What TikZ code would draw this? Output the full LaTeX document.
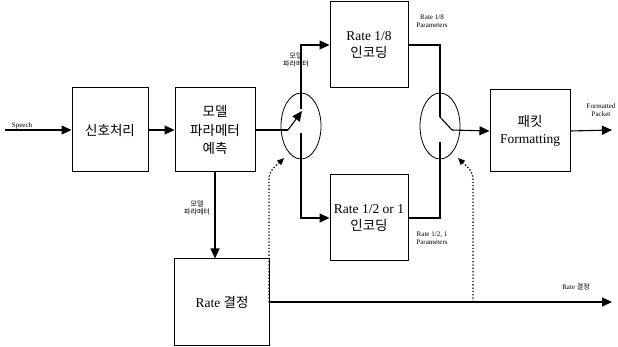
\documentclass[tikz,border=0pt]{standalone}
\usepackage{fontspec}
\setmainfont{Liberation Serif}
\newfontfamily\kr{Noto Sans CJK KR}
\usetikzlibrary{arrows.meta,shapes.geometric}
\tikzset{
  blk/.style={draw,line width=1pt,minimum width=#1,inner sep=0pt,align=center,font=\fontsize{13.5}{16.5}\selectfont},
  ln/.style={line width=1.1pt},
  arr/.style={line width=1.1pt,-{Triangle[length=10pt,width=9pt]}},
  dots/.style={line width=1.3pt,dotted,-{Triangle[length=7pt,width=6pt]}},
  lbl/.style={font=\fontsize{7}{8}\selectfont,align=center,inner sep=1pt},
  sw/.style={draw,ellipse,line width=0.8pt,minimum width=40pt,minimum height=66pt,inner sep=0pt}
}
\begin{document}
\begin{tikzpicture}[x=1pt,y=-1pt]
\useasboundingbox (0,0) rectangle (618,347);
% boxes
\node[blk=76pt,minimum height=84pt] (sig) at (110,130) {\kr 신호처리};
\node[blk=80pt,minimum height=84pt] (model) at (215,130) {\kr 모델\\[2pt]\kr 파라메터\\[2pt]\kr 예측};
\node[blk=78pt,minimum height=86pt] (r18) at (369,45) {Rate 1/8\\\kr 인코딩};
\node[blk=78pt,minimum height=86pt] (r12) at (369,218) {Rate 1/2 or 1\\\kr 인코딩};
\node[blk=80pt,minimum height=82pt] (pkt) at (530,131) {\kr 패킷\\Formatting};
\node[blk=95pt,minimum height=86pt] (rate) at (222,302) {Rate {\kr 결정}};
% switches
\node[sw] (swl) at (301,126) {};
\node[sw] (swr) at (440,126) {};
\coordinate (in) at (5,130);
\coordinate (outp) at (612,130);
\coordinate (outr) at (612,302);
\coordinate (lpa) at (288,130);
\coordinate (lpt) at (302,111);
\coordinate (lpb) at (301,133);
\coordinate (rpa) at (440,117);
\coordinate (rpb) at (452,130);
\coordinate (rpl) at (440,142);
% connectors
\draw[arr] (in) -- (sig.west);
\draw[arr] (sig.east) -- (model.west);
\draw[ln] (model.east) -- (lpa);
\draw[arr] (lpa) -- (lpt);
\draw[arr] (301,109) |- (r18.west);
\draw[arr] (lpb) |- (r12.west);
\draw[ln] (r18.east) -| (rpa);
\draw[ln] (rpa) -- (rpb);
\draw[arr] (rpb) -- (pkt.west);
\draw[ln] (r12.east) -| (rpl);
\draw[arr] (pkt.east) -- (outp);
\draw[arr] (model.south) -- (model.south |- rate.north);
\draw[arr] (rate.east) -- (outr);
\coordinate (dl) at (269,302);
\coordinate (dr) at (473,302);
\draw[dots] (dl) -- (269,180) to[out=90,in=225] (284,158);
\draw[dots] (dr) -- (473,180) to[out=90,in=-45] (458,158);
% labels
\node[lbl] (tin) at (22,126) {Speech};
\node[lbl] (tmod) at (296,60) {\kr 모델\\\kr 파라메터};
\node[lbl] (tmod2) at (197,208) {\kr 모델\\\kr 파라메터};
\node[lbl] (t18) at (432,21) {Rate 1/8\\Parameters};
\node[lbl] (t12) at (432,238) {Rate 1/2, 1\\Parameters};
\node[lbl] (tfp) at (601,110) {Formatted\\Packet};
\node[lbl] (trt) at (576,287) {Rate {\kr 결정}};
\end{tikzpicture}
\end{document}
